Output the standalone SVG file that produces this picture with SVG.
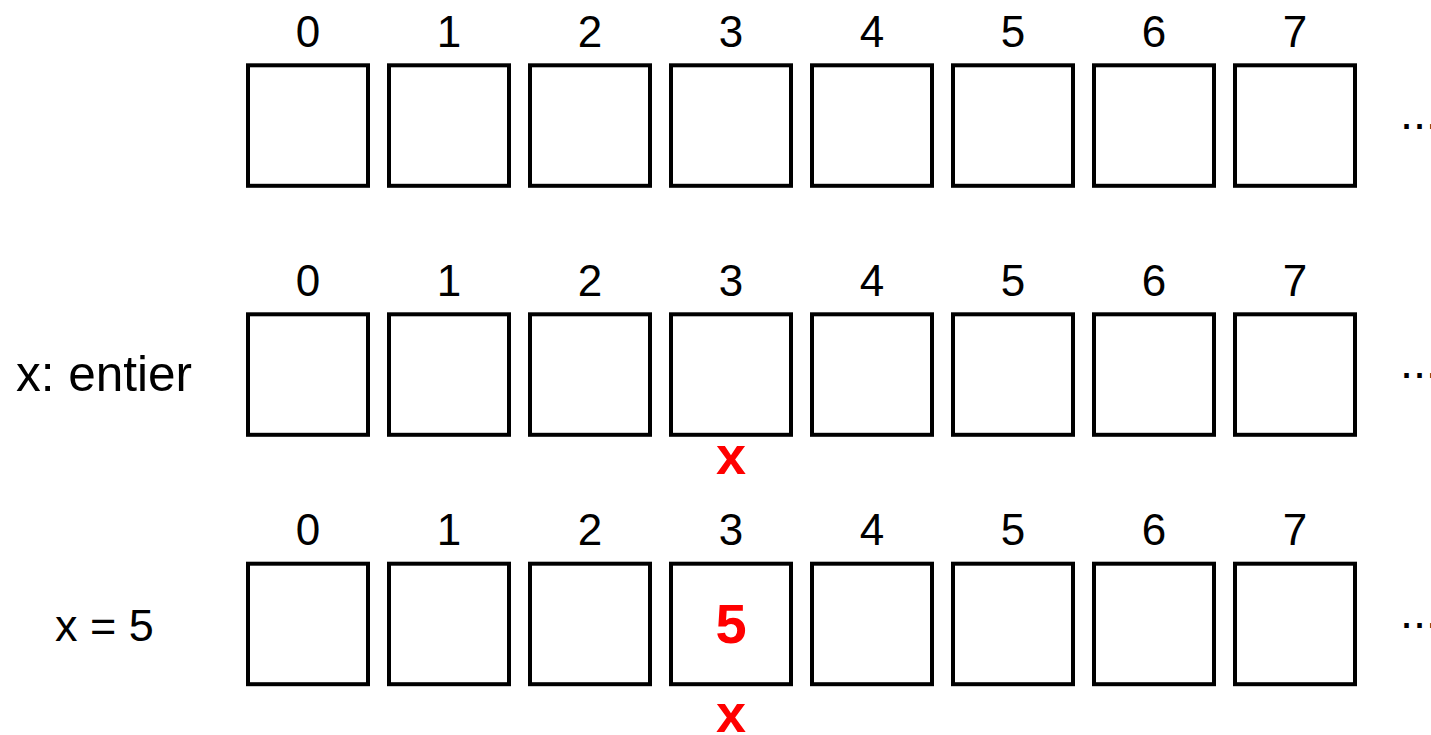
<svg xmlns="http://www.w3.org/2000/svg" width="1431" height="735" viewBox="0 0 1431 735">
<style>
.cell{fill:#fff;stroke:#000;stroke-width:4}
.idx{font-family:"Liberation Sans",Arial,sans-serif;font-size:44px;fill:#000;text-anchor:middle}
.lbl{font-family:"Liberation Sans",Arial,sans-serif;fill:#000}
.red{font-family:"Liberation Sans",Arial,sans-serif;font-weight:bold;fill:#ff0000;text-anchor:middle}
.dots{font-family:"Liberation Sans",Arial,sans-serif;font-size:47px;fill:#000}
</style>
<rect width="1431" height="735" fill="#fff"/>
<defs>
<g id="row">
<rect class="cell" x="248" y="0" width="120" height="120.5"/>
<rect class="cell" x="389" y="0" width="120" height="120.5"/>
<rect class="cell" x="530" y="0" width="120" height="120.5"/>
<rect class="cell" x="671" y="0" width="120" height="120.5"/>
<rect class="cell" x="812" y="0" width="120" height="120.5"/>
<rect class="cell" x="953" y="0" width="120" height="120.5"/>
<rect class="cell" x="1094" y="0" width="120" height="120.5"/>
<rect class="cell" x="1235" y="0" width="120" height="120.5"/>
<text class="idx" x="308" y="-18.5">0</text>
<text class="idx" x="449" y="-18.5">1</text>
<text class="idx" x="590" y="-18.5">2</text>
<text class="idx" x="731" y="-18.5">3</text>
<text class="idx" x="872" y="-18.5">4</text>
<text class="idx" x="1013" y="-18.5">5</text>
<text class="idx" x="1154" y="-18.5">6</text>
<text class="idx" x="1295" y="-18.5">7</text>
<text class="dots" x="1400" y="64">...</text>
</g>
</defs>
<g id="row1"><use href="#row" x="0" y="65.3"/></g>
<g id="row2"><use href="#row" x="0" y="314.3"/>
<text class="lbl" x="16" y="391" font-size="49.5">x: entier</text>
<text class="red" x="731" y="473.5" font-size="54">x</text>
</g>
<g id="row3"><use href="#row" x="0" y="563.7"/>
<text class="lbl" x="55" y="641" font-size="45">x = 5</text>
<text class="red" x="731" y="643.3" font-size="56">5</text>
<text class="red" x="731" y="731.7" font-size="54">x</text>
</g>
<g id="connectors"/>
</svg>
